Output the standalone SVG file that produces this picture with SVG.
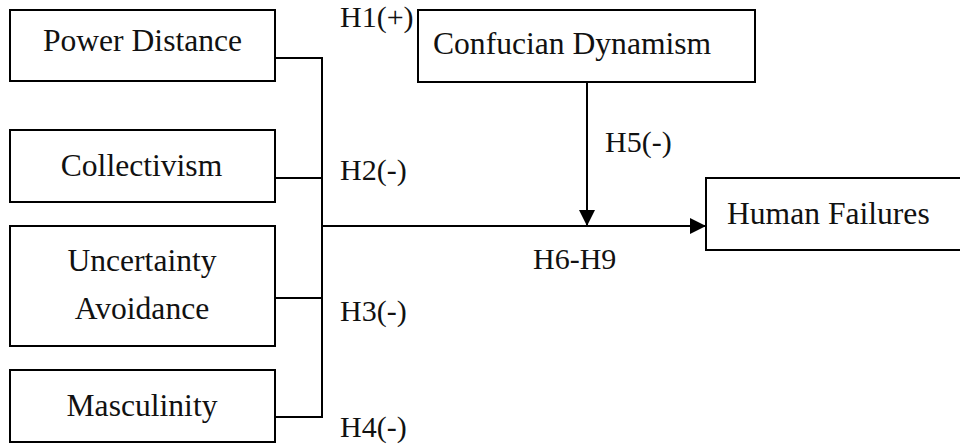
<svg xmlns="http://www.w3.org/2000/svg" width="960" height="448" viewBox="0 0 960 448">
<defs>
<style>
.box{fill:#fff;stroke:#000;stroke-width:2}
.t{font-family:"Liberation Serif","Times New Roman",serif;font-size:31.6px;fill:#111}
.h{font-family:"Liberation Serif","Times New Roman",serif;font-size:30px;fill:#111}
.c{text-anchor:middle}
.ln{fill:none;stroke:#000;stroke-width:2}
</style>
<marker id="ah" markerWidth="16" markerHeight="16" refX="16" refY="8" orient="auto" markerUnits="userSpaceOnUse">
<path d="M0,0 L16,8 L0,16 Z" fill="#000"/>
</marker>
</defs>
<rect width="960" height="448" fill="#fff"/>
<g id="power-distance"><rect class="box" x="10" y="10" width="265" height="71"/><text class="t c" x="142.5" y="51">Power Distance</text></g>
<g id="collectivism"><rect class="box" x="10" y="130" width="265" height="72"/><text class="t c" x="141.5" y="176">Collectivism</text></g>
<g id="uncertainty-avoidance"><rect class="box" x="10" y="226" width="265" height="120"/><text class="t c" x="142" y="271">Uncertainty</text><text class="t c" x="142" y="319">Avoidance</text></g>
<g id="masculinity"><rect class="box" x="10" y="370" width="265" height="72"/><text class="t c" x="142" y="416">Masculinity</text></g>
<g id="confucian-dynamism"><rect class="box" x="418" y="10" width="337" height="72"/><text class="t" x="433" y="54">Confucian Dynamism</text></g>
<g id="human-failures"><rect class="box" x="706" y="178" width="270" height="72"/><text class="t" x="727" y="224">Human Failures</text></g>
<g id="connectors">
<path class="ln" d="M275,58 H322 V417 H275"/>
<path class="ln" d="M275,178 H322"/>
<path class="ln" d="M275,298 H322"/>
<path class="ln" d="M322,226 H706" marker-end="url(#ah)"/>
<path class="ln" d="M587,82 V226" marker-end="url(#ah)"/>
</g>
<g id="labels">
<text class="h" x="340" y="27">H1(+)</text>
<text class="h" x="340" y="180">H2(-)</text>
<text class="h" x="340" y="321">H3(-)</text>
<text class="h" x="340" y="437">H4(-)</text>
<text class="h" x="605" y="152">H5(-)</text>
<text class="h" x="533" y="269">H6-H9</text>
</g>
</svg>
